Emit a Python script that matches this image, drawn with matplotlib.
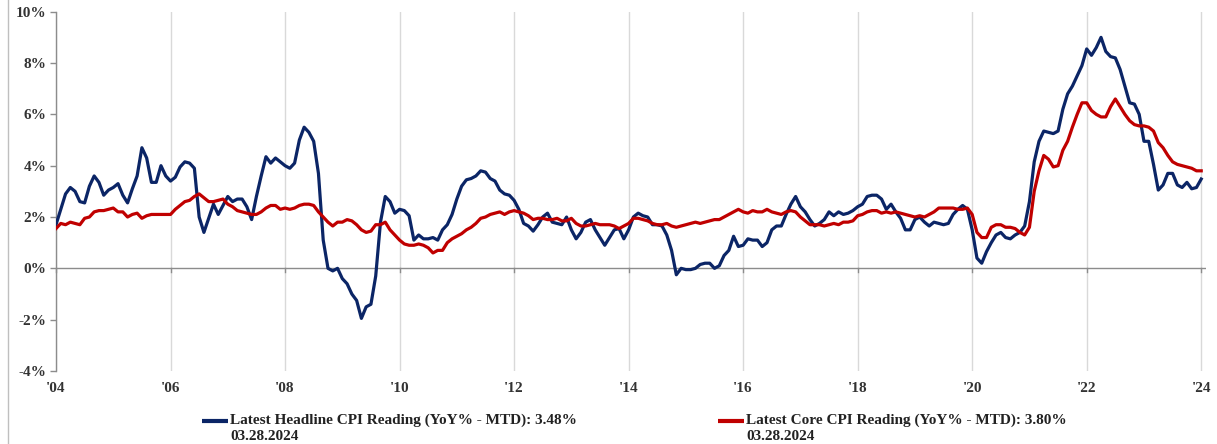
import matplotlib
matplotlib.use("Agg")
import matplotlib.pyplot as plt
from matplotlib.lines import Line2D

# Monthly YoY % readings, Mar 2004 .. Mar 2024
headline = [
    1.7, 2.3, 2.9, 3.15, 3.0, 2.6, 2.55, 3.2, 3.6, 3.35,
    2.85, 3.05, 3.15, 3.3, 2.85, 2.55, 3.1, 3.6, 4.7, 4.3, 3.35, 3.35,
    4.0, 3.6, 3.4, 3.55, 3.95, 4.15, 4.1, 3.9, 2.0, 1.4, 1.95, 2.5,
    2.1, 2.45, 2.8, 2.6, 2.7, 2.7, 2.4, 1.9, 2.8, 3.6, 4.35, 4.1,
    4.3, 4.15, 4.0, 3.9, 4.1, 5.0, 5.5, 5.3, 4.95, 3.7, 1.1, 0.0,
    -0.1, 0.0, -0.4, -0.6, -1.0, -1.25, -1.95, -1.5, -1.4, -0.3, 1.8, 2.8,
    2.6, 2.15, 2.3, 2.25, 2.05, 1.1, 1.3, 1.15, 1.15, 1.2, 1.1, 1.5,
    1.7, 2.1, 2.7, 3.2, 3.45, 3.5, 3.6, 3.8, 3.75, 3.5, 3.4, 3.05,
    2.9, 2.85, 2.65, 2.3, 1.75, 1.65, 1.45, 1.7, 2.0, 2.15, 1.8, 1.75,
    1.7, 2.0, 1.5, 1.15, 1.4, 1.8, 1.9, 1.5, 1.2, 0.9, 1.2, 1.5,
    1.55, 1.15, 1.5, 2.0, 2.15, 2.05, 2.0, 1.7, 1.7, 1.65, 1.3, 0.7,
    -0.25, 0.0, -0.05, -0.05, 0.0, 0.15, 0.2, 0.2, 0.0, 0.1, 0.5, 0.7,
    1.25, 0.85, 0.9, 1.15, 1.1, 1.1, 0.85, 1.0, 1.5, 1.65, 1.65, 2.1,
    2.5, 2.8, 2.4, 2.2, 1.9, 1.65, 1.75, 1.9, 2.2, 2.05, 2.2, 2.1,
    2.15, 2.25, 2.4, 2.5, 2.8, 2.85, 2.85, 2.7, 2.3, 2.5, 2.2, 1.95,
    1.5, 1.5, 1.9, 2.0, 1.8, 1.65, 1.8, 1.75, 1.7, 1.75, 2.1, 2.3,
    2.45, 2.3, 1.5, 0.4, 0.2, 0.65, 1.0, 1.3, 1.4, 1.2, 1.15, 1.3,
    1.4, 1.65, 2.6, 4.15, 4.95, 5.35, 5.3, 5.25, 5.35, 6.2, 6.8, 7.1,
    7.5, 7.9, 8.55, 8.3, 8.6, 9.0, 8.45, 8.25, 8.2, 7.75, 7.1, 6.45,
    6.4, 6.0, 4.95, 4.95, 4.05, 3.05, 3.25, 3.7, 3.7, 3.25, 3.15, 3.35,
    3.1, 3.15, 3.48,
]
core = [
    1.55, 1.75, 1.7, 1.8, 1.75, 1.7, 1.95, 2.0, 2.2, 2.25,
    2.25, 2.3, 2.35, 2.2, 2.2, 2.0, 2.1, 2.15, 1.95, 2.05, 2.1, 2.1,
    2.1, 2.1, 2.1, 2.3, 2.45, 2.6, 2.65, 2.8, 2.9, 2.75, 2.6, 2.6,
    2.65, 2.7, 2.5, 2.4, 2.25, 2.2, 2.15, 2.1, 2.1, 2.2, 2.35, 2.45,
    2.45, 2.3, 2.35, 2.3, 2.35, 2.45, 2.5, 2.5, 2.45, 2.2, 2.0, 1.8,
    1.65, 1.8, 1.8, 1.9, 1.85, 1.7, 1.5, 1.4, 1.45, 1.7, 1.7, 1.8,
    1.5, 1.3, 1.1, 0.95, 0.9, 0.9, 0.95, 0.9, 0.8, 0.6, 0.7, 0.7,
    1.0, 1.15, 1.25, 1.35, 1.5, 1.6, 1.75, 1.95, 2.0, 2.1, 2.15, 2.2,
    2.1, 2.2, 2.25, 2.2, 2.15, 2.05, 1.9, 1.95, 1.95, 1.9, 1.9, 1.95,
    1.85, 1.85, 1.95, 1.75, 1.65, 1.65, 1.7, 1.75, 1.7, 1.7, 1.7, 1.65,
    1.55, 1.65, 1.75, 1.95, 1.95, 1.9, 1.85, 1.75, 1.7, 1.7, 1.75, 1.65,
    1.6, 1.65, 1.7, 1.75, 1.8, 1.75, 1.8, 1.85, 1.9, 1.9, 2.0, 2.1,
    2.2, 2.3, 2.2, 2.15, 2.25, 2.2, 2.2, 2.3, 2.2, 2.15, 2.1, 2.2,
    2.25, 2.2, 2.0, 1.85, 1.7, 1.7, 1.7, 1.65, 1.7, 1.75, 1.7, 1.8,
    1.8, 1.85, 2.05, 2.1, 2.2, 2.25, 2.25, 2.15, 2.2, 2.15, 2.2, 2.15,
    2.1, 2.05, 2.0, 2.05, 2.0, 2.1, 2.2, 2.35, 2.35, 2.35, 2.35, 2.3,
    2.3, 2.35, 2.1, 1.4, 1.2, 1.2, 1.6, 1.7, 1.7, 1.6, 1.6, 1.55,
    1.4, 1.3, 1.6, 3.0, 3.8, 4.4, 4.25, 3.95, 4.0, 4.6, 4.95, 5.5,
    6.0, 6.45, 6.45, 6.15, 6.0, 5.9, 5.9, 6.3, 6.6, 6.3, 6.0, 5.75,
    5.6, 5.55, 5.55, 5.5, 5.35, 4.9, 4.7, 4.4, 4.15, 4.05, 4.0, 3.95,
    3.9, 3.8, 3.80,
]
tick_labels = ["'04", "'06", "'08", "'10", "'12", "'14", "'16", "'18", "'20", "'22", "'24"]
y_ticks = [-4, -2, 0, 2, 4, 6, 8, 10]
label_headline = "Latest Headline CPI Reading (YoY% - MTD): 3.48%"
label_core = "Latest Core CPI Reading (YoY% - MTD): 3.80%"
date_label = "03.28.2024"

NAVY = "#0B2566"
RED = "#C00000"
GRID = "#D9D9D9"
AXIS = "#8C8C8C"
SERIF = ["Liberation Serif", "DejaVu Serif"]

W, H = 1217, 444
fig = plt.figure(figsize=(W / 100, H / 100), dpi=100)
left = 56 / W
right = 1206 / W
bottom = 1 - 371 / H
top = 1 - 11.7 / H
ax = fig.add_axes([left, bottom, right - left, top - bottom])

x = list(range(len(headline)))
l1, = ax.plot(x, headline, color=NAVY, lw=2.3, solid_joinstyle="round", zorder=3)
l2, = ax.plot(x, core, color=RED, lw=2.3, solid_joinstyle="round", zorder=3)

ax.set_xlim(0, 241)
ax.set_ylim(-4, 10)
xt = [24 * i for i in range(len(tick_labels))]
ax.set_xticks(xt)
ax.set_xticklabels(tick_labels)
ax.set_yticks(y_ticks)
ax.set_yticklabels([f"{v}%" for v in y_ticks])

for t in xt:
    ax.axvline(t, color=GRID, lw=1.0, zorder=1)
ax.axhline(0, color=AXIS, lw=1.0, zorder=2)
for t in xt:
    ax.plot([t, t], [0, -0.15], color=AXIS, lw=1.0, zorder=2, clip_on=False)

for s in ["top", "right", "bottom"]:
    ax.spines[s].set_visible(False)
ax.spines["left"].set_color(AXIS)
ax.spines["left"].set_linewidth(1.0)
ax.tick_params(axis="y", direction="out", length=4, width=1, color=AXIS, pad=3)
ax.tick_params(axis="x", length=0, pad=8)
for lab in ax.get_yticklabels() + ax.get_xticklabels():
    lab.set_fontfamily(SERIF)
    lab.set_fontweight("bold")
    lab.set_fontsize(11)
    lab.set_color("#333333")

# frame line on the far left
fig.add_artist(Line2D([8 / W, 8 / W], [0, 1], color="#BFBFBF", lw=1.0))

# legend entries (handle + bold label, date beneath)
y1 = 1 - 420.5 / H
y2 = 1 - 436.5 / H
for (hx0, hx1, tx, line, lab) in [(202, 228, 230, l1, label_headline),
                                  (718, 744, 746, l2, label_core)]:
    fig.add_artist(Line2D([hx0 / W, hx1 / W], [y1, y1], color=line.get_color(), lw=3,
                          solid_capstyle="butt"))
    fig.text(tx / W, y1, lab, ha="left", va="center", family=SERIF,
             fontweight="bold", fontsize=11, color="#222222")
    fig.text(tx / W, y2, date_label, ha="left", va="center", family=SERIF,
             fontweight="bold", fontsize=11, color="#222222")

fig.savefig("out.png", dpi=100)
